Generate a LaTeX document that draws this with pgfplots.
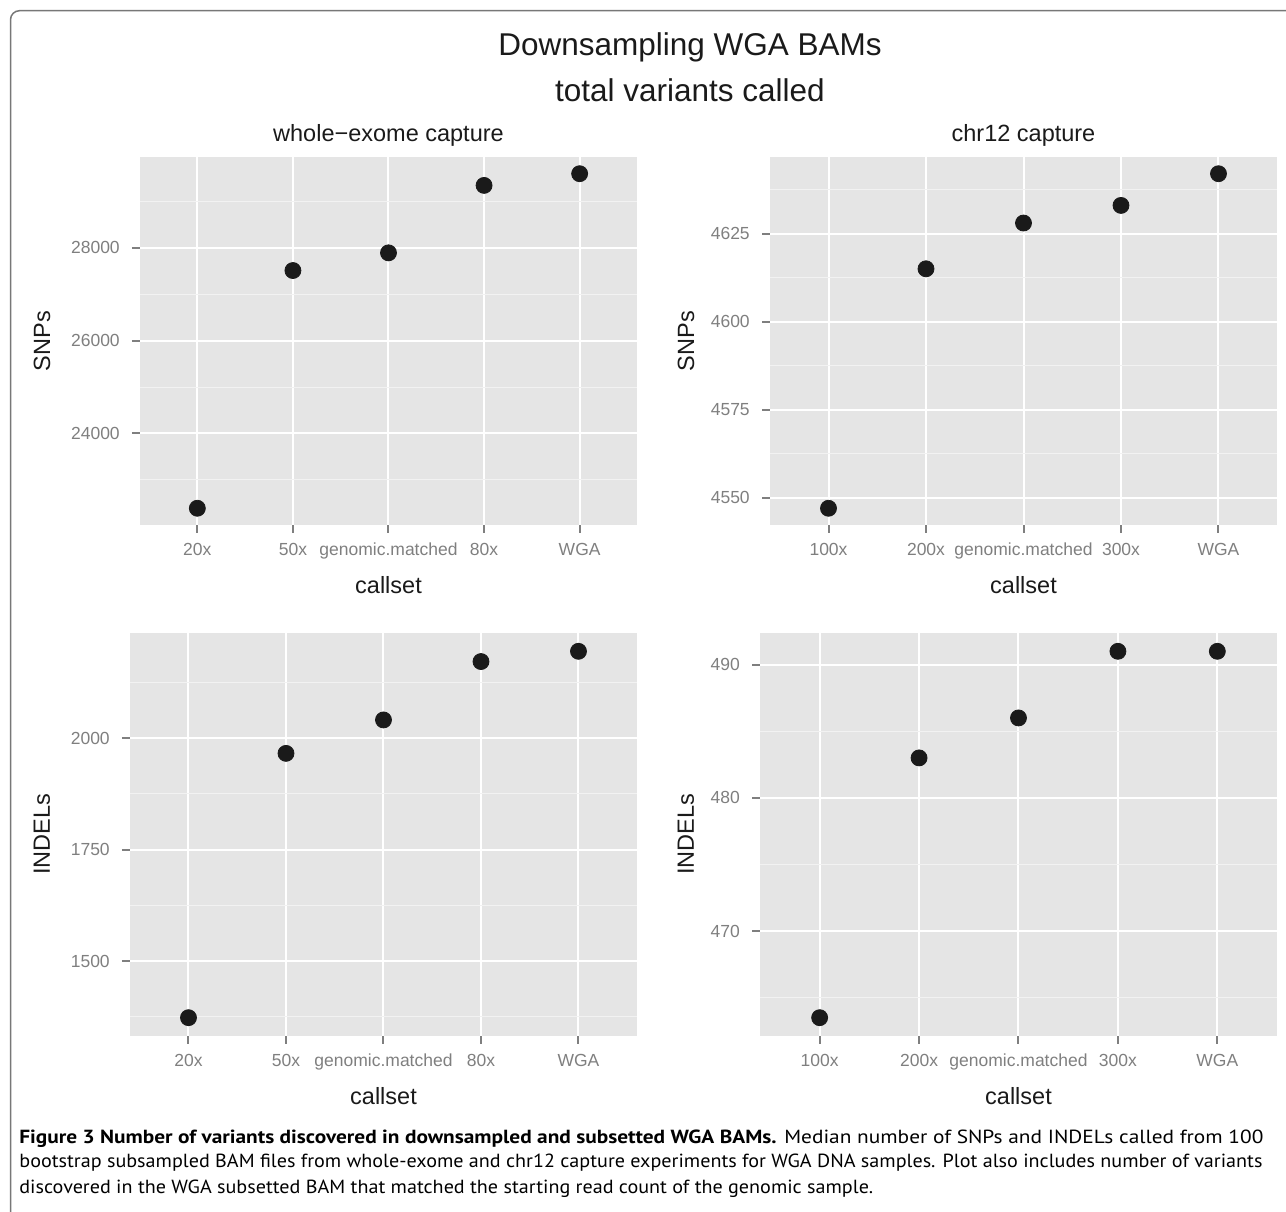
\documentclass[border=0pt]{standalone}
\usepackage{pgfplots}
\pgfplotsset{compat=1.18}
\usepackage{fontspec}
\setmainfont{Liberation Sans}
\newfontfamily\capfont{PT Sans}
\definecolor{ggbg}{HTML}{E5E5E5}
\definecolor{ggminor}{HTML}{F2F2F2}
\definecolor{gglab}{HTML}{7F7F7F}
\definecolor{ggdot}{HTML}{1A1A1A}
\definecolor{framec}{HTML}{777777}
\newlength\capwB
\pgfplotsset{ggpanel/.style={
  scale only axis,
  axis background/.style={fill=ggbg},
  axis line style={draw=none},
  xmin=0.4, xmax=5.6, xtick={1,2,3,4,5},
  xmajorgrids, ymajorgrids, yminorgrids,
  major grid style={white, line width=1pt},
  minor grid style={ggminor, line width=0.5pt},
  tick align=outside, major tick length=4pt, minor tick length=0pt,
  tick style={gglab, line width=1pt},
  xtick pos=bottom, ytick pos=left,
  ticklabel style={font=\fontsize{8.75}{10}\selectfont, text=gglab},
  yticklabel style={xshift=-2.6pt},
  xticklabel style={yshift=-0.4pt, text height=0.75em, text depth=0.22em},
  /pgf/number format/.cd, 1000 sep={}, assume math mode=true, /pgfplots/.cd,
  scaled y ticks=false,
  label style={font=\fontsize{11.75}{13}\selectfont, text=ggdot},
  title style={font=\fontsize{11.75}{13}\selectfont, text=ggdot, at={(axis description cs:0.5,1)}, anchor=center, yshift=5pt},
  xlabel={callset},
  xlabel style={at={(axis description cs:0.5,0)}, anchor=center, yshift=-30pt},
  clip=false,
}}
\pgfplotsset{ggdots/.style={only marks, mark=*, mark size=4pt, color=ggdot, mark options={draw=ggdot, fill=ggdot}}}
\begin{document}
\settowidth{\capwB}{\capfont\fontsize{9.5}{11}\selectfont bootstrap subsampled BAM files from whole-exome and chr12 capture experiments for WGA DNA samples. Plot also includes number of variants}%
\pgfmathsetmacro{\capsx}{621.5/\capwB}%
\begin{tikzpicture}
\path[use as bounding box] (0,0) rectangle (643pt,605.5pt);
\draw[framec, line width=0.75pt, rounded corners=4.5pt] (5.25pt,-20pt) -- (5.25pt,600.15pt) -- (700pt,600.15pt);
\node[font=\fontsize{15.75}{18}\selectfont, text=ggdot] at (345pt,582pt) {Downsampling WGA BAMs};
\node[font=\fontsize{15.75}{18}\selectfont, text=ggdot] at (345pt,560.5pt) {total variants called};

% top-left
\begin{axis}[ggpanel, at={(70pt,343pt)}, anchor=south west, width=248.5pt, height=184pt,
  ymin=22028.6, ymax=29957.4, ytick={24000,26000,28000}, minor ytick={23000,25000,27000,29000},
  xticklabels={20x,50x,genomic.matched,80x,WGA},
  title={whole−exome capture}, ylabel={SNPs},
  ylabel style={at={(axis description cs:0,0.5)}, anchor=center, yshift=49pt}]
\addplot[ggdots] coordinates {(1,22389) (2,27511) (3,27892) (4,29345) (5,29597)};
\end{axis}

% top-right
\begin{axis}[ggpanel, at={(385pt,343pt)}, anchor=south west, width=253.5pt, height=184pt,
  ymin=4542.25, ymax=4646.75, ytick={4550,4575,4600,4625}, minor ytick={4562.5,4587.5,4612.5,4637.5},
  xticklabels={100x,200x,genomic.matched,300x,WGA},
  title={chr12 capture}, ylabel={SNPs},
  ylabel style={at={(axis description cs:0,0.5)}, anchor=center, yshift=42pt}]
\addplot[ggdots] coordinates {(1,4547) (2,4615) (3,4628) (4,4633) (5,4642)};
\end{axis}

% bottom-left
\begin{axis}[ggpanel, at={(65pt,87.5pt)}, anchor=south west, width=253.5pt, height=201.5pt,
  ymin=1331.9, ymax=2236.1, ytick={1500,1750,2000}, minor ytick={1375,1625,1875,2125},
  xticklabels={20x,50x,genomic.matched,80x,WGA},
  ylabel={INDELs},
  ylabel style={at={(axis description cs:0,0.5)}, anchor=center, yshift=44pt}]
\addplot[ggdots] coordinates {(1,1373) (2,1966) (3,2041) (4,2172) (5,2195)};
\end{axis}

% bottom-right
\begin{axis}[ggpanel, at={(380pt,87.5pt)}, anchor=south west, width=258.5pt, height=201.5pt,
  ymin=462.125, ymax=492.375, ytick={470,480,490}, minor ytick={465,475,485},
  xticklabels={100x,200x,genomic.matched,300x,WGA},
  ylabel={INDELs},
  ylabel style={at={(axis description cs:0,0.5)}, anchor=center, yshift=37pt}]
\addplot[ggdots] coordinates {(1,463.5) (2,483) (3,486) (4,491) (5,491)};
\end{axis}

% caption
\node[anchor=base west, inner sep=0pt, font=\capfont\fontsize{9.5}{11}\selectfont] at (9.5pt,34pt) {\resizebox{622pt}{\height}{\textbf{Figure 3 Number of variants discovered in downsampled and subsetted WGA BAMs.} Median number of SNPs and INDELs called from 100}};
\node[anchor=base west, inner sep=0pt, font=\capfont\fontsize{9.5}{11}\selectfont] at (9.5pt,21.5pt) {\resizebox{621.5pt}{\height}{bootstrap subsampled BAM files from whole-exome and chr12 capture experiments for WGA DNA samples. Plot also includes number of variants}};
\node[anchor=base west, inner sep=0pt, font=\capfont\fontsize{9.5}{11}\selectfont] at (9.5pt,9pt) {\scalebox{\capsx}[1]{discovered in the WGA subsetted BAM that matched the starting read count of the genomic sample.}};
\end{tikzpicture}
\end{document}
